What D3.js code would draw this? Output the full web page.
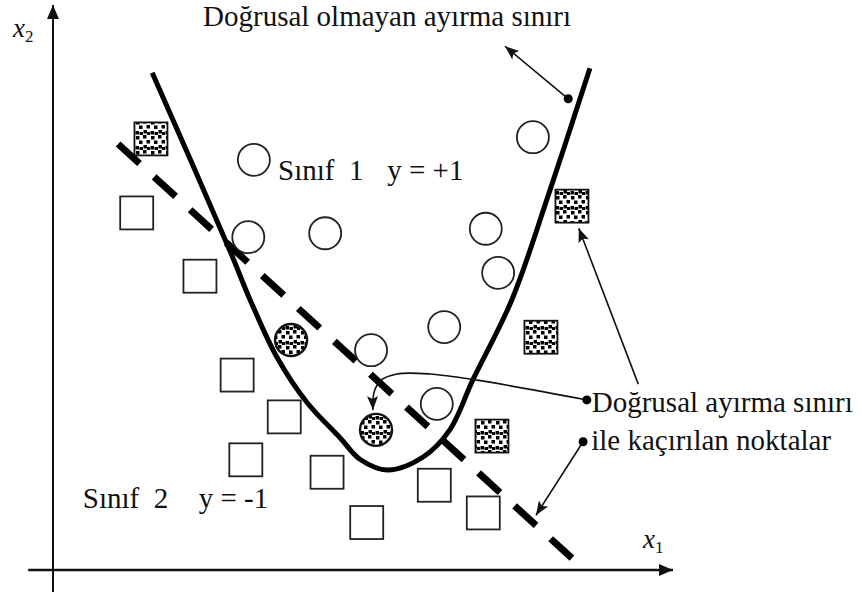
<!DOCTYPE html>
<html>
<head>
<meta charset="utf-8">
<script src="https://cdn.jsdelivr.net/npm/d3@7"></script>
<style>
  body { margin: 0; background: #fff; }
  text { font-family: "Liberation Serif", "Times New Roman", serif; fill: #111; }
</style>
</head>
<body>
<div id="chart"></div>
<script>
// =============================================
// DATA  (feature space x1, x2 in arbitrary units 0..10)
// =============================================
// class 1 (y = +1), open circles
const class1Points = [
  [3.24, 7.26], [3.15, 5.89], [4.39, 5.96], [7.74, 7.66], [6.98, 6.04],
  [7.18, 5.26], [6.31, 4.30], [5.13, 3.89], [6.19, 2.94]
];
// class 2 (y = -1), open squares
const class2Points = [
  [1.35, 6.32], [2.37, 5.20], [2.97, 3.45], [3.73, 2.71], [3.11, 1.95],
  [4.42, 1.73], [5.06, 0.84], [6.15, 1.50], [6.94, 1.01]
];
// points the linear boundary gets wrong (speckled)
const missedSquares = [[1.58, 7.63], [8.37, 6.44], [7.87, 4.12], [7.08, 2.37]];
const missedCircles = [[3.84, 4.07], [5.21, 2.48]];

// non-linear decision boundary
const curveBoundary = [
  [1.60, 8.80], [2.85, 5.66], [3.18, 4.78], [3.61, 3.77], [4.10, 2.96],
  [4.63, 2.34], [4.95, 1.96], [5.40, 1.77], [5.97, 2.00], [6.40, 2.48],
  [6.77, 3.36], [7.40, 4.78], [8.00, 6.67], [8.66, 8.88]
];
// linear decision boundary
const lineBoundary = [[1.05, 7.54], [8.37, 0.21]];

// annotation arrows: path points, whether a dot sits at the start
const callouts = [
  { pts: [[8.31, 8.34], [7.29, 9.27]], dot: true },
  { pts: [[8.61, 3.01], [6.84, 3.36], [6.08, 3.47], [5.55, 3.47], [5.29, 3.36], [5.18, 3.15], [5.16, 2.83]], dot: true },
  { pts: [[9.44, 3.29], [8.48, 6.05]], dot: false },
  { pts: [[8.55, 2.27], [7.79, 0.97]], dot: true }
];

const labels = [
  { text: "Doğrusal olmayan ayırma sınırı", at: [2.42, 9.63] },
  { text: "Sınıf  1", at: [3.63, 6.90] },
  { text: "y = +1", at: [5.39, 6.90] },
  { text: "Sınıf  2", at: [0.48, 1.10] },
  { text: "y = -1", at: [2.35, 1.10] },
  { text: "Doğrusal ayırma sınırı", at: [8.69, 2.80] },
  { text: "ile kaçırılan noktalar", at: [8.68, 2.12] }
];

// =============================================
// SETUP
// =============================================
const W = 862, H = 594;
const R = 16, SQ = 33;

const svg = d3.select("#chart").append("svg")
  .attr("width", W)
  .attr("height", H);

const x = d3.scaleLinear().domain([0, 10]).range([53, 673]);
const y = d3.scaleLinear().domain([0, 10]).range([570, 5]);

const defs = svg.append("defs");

// speckle fill
const speckle = defs.append("pattern")
  .attr("id", "speckle")
  .attr("patternUnits", "userSpaceOnUse")
  .attr("width", 15).attr("height", 15);
speckle.append("rect").attr("width", 15).attr("height", 15).attr("fill", "#fff");
[[1, 1], [8, 0], [11.5, 5], [4, 5.5], [8.5, 10], [0.5, 11], [12, 12], [4.5, 12]].forEach(([a, b]) => {
  speckle.append("rect").attr("x", a).attr("y", b).attr("width", 3.5).attr("height", 3.5).attr("fill", "#000");
});

defs.append("marker")
  .attr("id", "axisArrow")
  .attr("viewBox", "-1 -7 16 14")
  .attr("refX", 14).attr("refY", 0)
  .attr("markerUnits", "userSpaceOnUse")
  .attr("markerWidth", 16).attr("markerHeight", 14)
  .attr("orient", "auto")
  .append("path").attr("d", "M0,-6L14,0L0,6Z").attr("fill", "#111");

defs.append("marker")
  .attr("id", "smallArrow")
  .attr("viewBox", "-1 -7 16 14")
  .attr("refX", 14).attr("refY", 0)
  .attr("markerUnits", "userSpaceOnUse")
  .attr("markerWidth", 16).attr("markerHeight", 14)
  .attr("orient", "auto")
  .append("path").attr("d", "M0,-5.5L14,0L0,5.5L3,0Z").attr("fill", "#111");

// =============================================
// AXES
// =============================================
svg.append("line")
  .attr("x1", x(0)).attr("y1", y(-0.39))
  .attr("x2", x(0)).attr("y2", y(10))
  .attr("stroke", "#111").attr("stroke-width", 2)
  .attr("marker-end", "url(#axisArrow)");

svg.append("line")
  .attr("x1", x(-0.4)).attr("y1", y(0))
  .attr("x2", x(10)).attr("y2", y(0))
  .attr("stroke", "#111").attr("stroke-width", 2.5)
  .attr("marker-end", "url(#axisArrow)");

const x2Label = svg.append("text").attr("x", x(0) - 40).attr("y", y(10) + 32);
x2Label.append("tspan").attr("font-style", "italic").attr("font-size", 27).text("x");
x2Label.append("tspan").attr("font-size", 17).attr("dy", 5).text("2");

const x1Label = svg.append("text").attr("x", x(10) - 30).attr("y", y(0) - 22);
x1Label.append("tspan").attr("font-style", "italic").attr("font-size", 27).text("x");
x1Label.append("tspan").attr("font-size", 17).attr("dy", 5).text("1");

// =============================================
// BOUNDARIES
// =============================================
svg.append("path")
  .datum(curveBoundary)
  .attr("d", d3.line().x(d => x(d[0])).y(d => y(d[1])).curve(d3.curveCatmullRom.alpha(0.5)))
  .attr("fill", "none")
  .attr("stroke", "#000")
  .attr("stroke-width", 5);

svg.append("path")
  .datum(lineBoundary)
  .attr("d", d3.line().x(d => x(d[0])).y(d => y(d[1])))
  .attr("fill", "none")
  .attr("stroke", "#000")
  .attr("stroke-width", 7)
  .attr("stroke-dasharray", "29 19.8");

// =============================================
// POINTS
// =============================================
svg.selectAll(".c1")
  .data(class1Points)
  .enter().append("circle")
  .attr("class", "c1")
  .attr("cx", d => x(d[0])).attr("cy", d => y(d[1]))
  .attr("r", R)
  .attr("fill", "#fff").attr("stroke", "#222").attr("stroke-width", 1.8);

svg.selectAll(".c2")
  .data(class2Points)
  .enter().append("rect")
  .attr("class", "c2")
  .attr("x", d => x(d[0]) - SQ / 2).attr("y", d => y(d[1]) - SQ / 2)
  .attr("width", SQ).attr("height", SQ)
  .attr("fill", "#fff").attr("stroke", "#222").attr("stroke-width", 1.8);

svg.selectAll(".ms")
  .data(missedSquares)
  .enter().append("rect")
  .attr("class", "ms")
  .attr("x", d => x(d[0]) - SQ / 2).attr("y", d => y(d[1]) - SQ / 2)
  .attr("width", SQ).attr("height", SQ)
  .attr("fill", "url(#speckle)").attr("stroke", "#111").attr("stroke-width", 1.8);

svg.selectAll(".mc")
  .data(missedCircles)
  .enter().append("circle")
  .attr("class", "mc")
  .attr("cx", d => x(d[0])).attr("cy", d => y(d[1]))
  .attr("r", R)
  .attr("fill", "url(#speckle)").attr("stroke", "#111").attr("stroke-width", 2.4);

// =============================================
// ANNOTATIONS
// =============================================
callouts.forEach(c => {
  svg.append("path")
    .datum(c.pts)
    .attr("d", d3.line().x(d => x(d[0])).y(d => y(d[1])).curve(d3.curveCatmullRom.alpha(0.5)))
    .attr("fill", "none")
    .attr("stroke", "#111")
    .attr("stroke-width", 1.6)
    .attr("marker-end", "url(#smallArrow)");
  if (c.dot) {
    svg.append("circle")
      .attr("cx", x(c.pts[0][0])).attr("cy", y(c.pts[0][1]))
      .attr("r", 4.5).attr("fill", "#000");
  }
});

svg.selectAll(".lbl")
  .data(labels)
  .enter().append("text")
  .attr("class", "lbl")
  .attr("x", d => x(d.at[0])).attr("y", d => y(d.at[1]))
  .attr("font-size", 29)
  .style("white-space", "pre")
  .attr("xml:space", "preserve")
  .text(d => d.text);
</script>
</body>
</html>
